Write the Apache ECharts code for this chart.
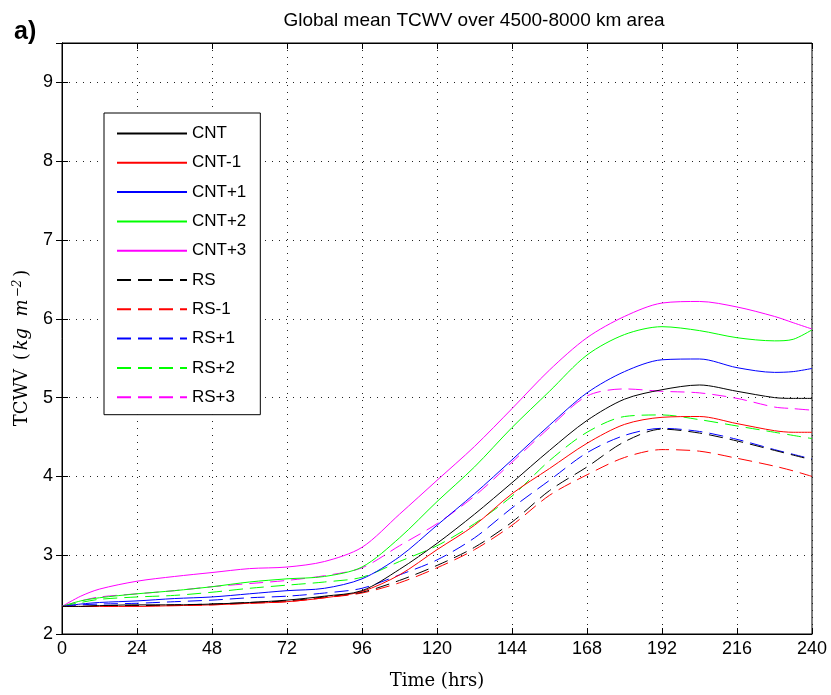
<!DOCTYPE html>
<html>
<head>
<meta charset="utf-8">
<script src="https://cdn.jsdelivr.net/npm/echarts@6/dist/echarts.min.js"></script>
<style>
html,body{margin:0;padding:0;background:#fff;}
#chart{width:831px;height:695px;}
</style>
</head>
<body>
<div id="chart"></div>
<script>
// ---- data ----
var times = [0,6,12,24,36,48,60,72,84,96,108,120,132,144,156,168,180,192,204,216,228,234,240];
var xTicks = [0,24,48,72,96,120,144,168,192,216,240];
var yTicks = [2,3,4,5,6,7,8,9];
var seriesNames = ['CNT','CNT-1','CNT+1','CNT+2','CNT+3','RS','RS-1','RS+1','RS+2','RS+3'];
var CNT   = [2.35,2.35,2.36,2.37,2.37,2.38,2.40,2.43,2.48,2.55,2.82,3.15,3.52,3.92,4.33,4.71,4.98,5.10,5.16,5.08,5.00,4.99,4.99];
var CNTm1 = [2.35,2.35,2.35,2.35,2.36,2.37,2.39,2.41,2.46,2.54,2.75,3.07,3.38,3.78,4.10,4.42,4.66,4.75,4.76,4.67,4.58,4.56,4.56];
var CNTp1 = [2.35,2.38,2.40,2.42,2.45,2.47,2.51,2.55,2.58,2.70,2.98,3.38,3.78,4.21,4.65,5.06,5.33,5.48,5.49,5.38,5.32,5.33,5.37];
var CNTp2 = [2.35,2.42,2.46,2.51,2.55,2.60,2.66,2.70,2.73,2.85,3.22,3.68,4.12,4.62,5.08,5.54,5.80,5.90,5.85,5.76,5.72,5.74,5.86];
var CNTp3 = [2.35,2.48,2.57,2.67,2.73,2.78,2.83,2.85,2.92,3.10,3.52,3.95,4.38,4.86,5.35,5.76,6.03,6.20,6.22,6.15,6.03,5.95,5.87];
var RS    = [2.35,2.35,2.36,2.36,2.37,2.38,2.40,2.42,2.47,2.53,2.68,2.87,3.10,3.42,3.82,4.12,4.44,4.60,4.55,4.45,4.33,4.27,4.21];
var RSm1  = [2.35,2.35,2.35,2.36,2.36,2.37,2.39,2.41,2.46,2.52,2.65,2.84,3.07,3.38,3.76,4.02,4.24,4.34,4.32,4.23,4.13,4.07,4.00];
var RSp1  = [2.35,2.37,2.38,2.39,2.41,2.43,2.46,2.48,2.52,2.58,2.75,2.94,3.22,3.60,3.95,4.30,4.52,4.61,4.57,4.47,4.34,4.28,4.22];
var RSp2  = [2.35,2.40,2.44,2.47,2.49,2.53,2.58,2.62,2.66,2.72,2.92,3.12,3.40,3.75,4.20,4.56,4.76,4.78,4.72,4.64,4.56,4.52,4.48];
var RSp3  = [2.35,2.42,2.47,2.51,2.55,2.60,2.64,2.68,2.74,2.84,3.12,3.40,3.75,4.18,4.62,5.02,5.11,5.08,5.06,4.99,4.88,4.86,4.84];

var allValues = [CNT,CNTm1,CNTp1,CNTp2,CNTp3,RS,RSm1,RSp1,RSp2,RSp3];
var colors = ['#000000','#ff0000','#0000ff','#00ff00','#ff00ff','#000000','#ff0000','#0000ff','#00ff00','#ff00ff'];
var dashed = [false,false,false,false,false,true,true,true,true,true];

var sansFont = "'Liberation Sans Narrow','Liberation Sans',Arial,sans-serif";
var serifFont = "'DejaVu Serif','Liberation Serif',serif";

var chart = echarts.init(document.getElementById('chart'), null, {renderer:'canvas'});

var series = seriesNames.map(function(n, i){
  return {
    name: n,
    type: 'line',
    xAxisIndex: 0,
    yAxisIndex: 0,
    symbol: 'none',
    showSymbol: false,
    smooth: 0.3,
    animation: false,
    lineStyle: {color: colors[i], width: 1, type: dashed[i] ? [14,7] : 'solid'},
    itemStyle: {color: colors[i]},
    data: times.map(function(t, j){ return [t, allValues[i][j]]; }),
    z: 10 - i
  };
});

var gridLine = {show:true, lineStyle:{color:'#222', width:1, type:[1,6]}};

var option = {
  animation: false,
  backgroundColor: '#fff',
  title: [
    {text: 'Global mean TCWV over 4500-8000 km area', left: 469, top: 6, textAlign: 'center',
     textStyle:{fontFamily: sansFont, fontSize: 19, fontWeight:'normal', color:'#000'}},
    {text: 'a)', left: 9, top: 15,
     textStyle:{fontFamily: sansFont, fontSize: 25, fontWeight:'bold', color:'#000'}}
  ],
  grid: {left: 62, right: 19, top: 43, bottom: 59, show: true, borderColor:'#000', borderWidth:1, backgroundColor:'#fff'},
  legend: {
    orient: 'vertical', left: 104, top: 113,
    itemWidth: 70, itemHeight: 14, itemGap: 12.3,
    padding: [12, 14, 9, 12],
    itemStyle: {opacity: 0, borderWidth: 0},
    backgroundColor: '#fff', borderColor: '#000', borderWidth: 1,
    textStyle: {fontFamily: sansFont, fontSize: 17, color:'#000'},
    data: seriesNames
  },
  xAxis: [
    {type:'value', min:0, max:240, interval:24, position:'bottom',
     name:'Time (hrs)', nameLocation:'middle', nameGap: 38,
     nameTextStyle:{fontFamily: serifFont, fontSize: 18, color:'#000'},
     axisLine:{show:true, lineStyle:{color:'#000', width:1}},
     axisTick:{show:true, inside:true, length:6, lineStyle:{color:'#000'}},
     axisLabel:{fontFamily: sansFont, fontSize: 18, color:'#000', margin: 6,
       formatter: function(v){ return xTicks.indexOf(v) >= 0 ? String(v) : ''; }},
     splitLine: gridLine},
    {type:'value', min:0, max:240, interval:24, position:'top',
     axisLine:{show:true, lineStyle:{color:'#000', width:1}},
     axisTick:{show:true, inside:true, length:6, lineStyle:{color:'#000'}},
     axisLabel:{show:false}, splitLine:{show:false}}
  ],
  yAxis: [
    {type:'value', min:2, max:9.5, interval:1, position:'left',
     name:'{n|TCWV} {p|(}{i|kg  m}{s|−2}{p|)}', nameLocation:'middle', nameGap: 30, nameRotate: 90,
     nameTextStyle:{color:'#000', fontSize:18, fontFamily: serifFont, padding:[0,16,0,0], rich:{
       n:{fontFamily: serifFont, fontSize:18, color:'#000'},
       p:{fontFamily: serifFont, fontSize:18, color:'#000', padding:[0,3,0,3]},
       i:{fontFamily: serifFont, fontSize:18, fontStyle:'italic', color:'#000'},
       s:{fontFamily: serifFont, fontSize:12, fontStyle:'italic', color:'#000', verticalAlign:'top', padding:[0,0,8,2]}
     }},
     axisLine:{show:true, lineStyle:{color:'#000', width:1}},
     axisTick:{show:true, inside:true, length:6, lineStyle:{color:'#000'}},
     axisLabel:{fontFamily: sansFont, fontSize: 18, color:'#000', margin: 9, showMaxLabel:false,
       formatter: function(v){ return yTicks.indexOf(v) >= 0 ? String(v) : ''; }},
     splitLine: gridLine},
    {type:'value', min:2, max:9.5, interval:1, position:'right',
     axisLine:{show:true, lineStyle:{color:'#000', width:1}},
     axisTick:{show:true, inside:true, length:6, lineStyle:{color:'#000'}},
     axisLabel:{show:false}, splitLine:{show:false}}
  ],
  series: series
};
chart.setOption(option);
</script>
</body>
</html>
